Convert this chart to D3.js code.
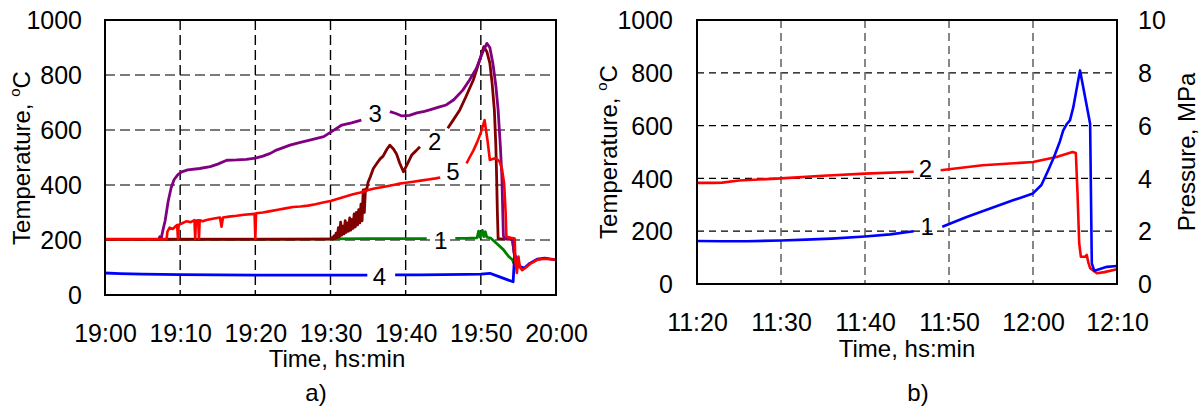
<!DOCTYPE html>
<html>
<head>
<meta charset="utf-8">
<script src="https://cdn.jsdelivr.net/npm/d3@7"></script>
<style>
  html, body { margin: 0; padding: 0; background: #fff; }
  svg { display: block; }
  text { font-family: "Liberation Sans", Arial, sans-serif; fill: #000; }
</style>
</head>
<body>
<svg id="chart" width="1201" height="409"></svg>
<script>
// ---------- Panel a: time in minutes after 19:00, temperature in °C ----------
const timeTicksA = [0, 10, 20, 30, 40, 50, 60];
const timeLabelsA = ["19:00", "19:10", "19:20", "19:30", "19:40", "19:50", "20:00"];
const tempTicks = [0, 200, 400, 600, 800, 1000];

// curve 1
const seriesA1 = [[0,203],[10,203],[20,203],[30,204],[35,205],[40,205],[42.8,205], null,
  [46.6,206],[48,206],[49.5,208],[49.7,232],[49.9,210],[50.2,235],[50.4,212],[50.6,230],[50.8,210],
  [51.3,207],[52,190],[53,165],[53.7,140],[54.2,128],[54.4,115]];
// curve 2
const seriesA2 = [[0,202],[10,202],[20,202],[30,203],[30.15,208],[30.3,203],[30.45,215],[30.6,205],
  [30.75,225],[30.9,208],[31.05,245],[31.2,212],[31.35,265],[31.5,218],[31.65,250],[31.8,222],
  [31.95,270],[32.1,228],[32.25,262],[32.4,232],[32.55,280],[32.7,236],[32.85,275],[33,242],
  [33.15,295],[33.3,248],[33.45,300],[33.6,255],[33.75,310],[33.9,262],[34.05,330],[34.2,270],
  [34.35,382],[34.5,300],[34.65,385],[34.8,380],[35,410],[35.3,430],
  [35.7,460],[36.2,480],[36.6,495],[37,505],[37.5,530],[37.9,545],[38.4,530],[38.8,512],
  [39.2,480],[39.7,448],[40.2,475],[40.8,509],[41.4,525],[41.9,539], null,
  [45.6,606],[46.3,635],[47.2,673],[48,720],[49,782],[49.8,850],[50.4,903],[50.8,885],
  [51.2,843],[51.5,770],[51.8,673],[52,540],[52.1,430],[52.2,300],[52.3,205],[53,204],
  [54.2,203],[54.4,160],[54.6,120]];
// curve 3
const seriesA3 = [[7.1,200],[7.3,212],[7.5,208],[7.7,235],[8.0,270],[8.4,340],[8.8,390],
  [9.2,420],[9.7,438],[10.2,448],[11,455],[12.6,460],[14,467],[15,476],[16.2,490],[17.5,491],
  [18.8,493],[20,498],[21,505],[22,515],[22.8,527],[23.8,537],[24.6,545],[26,555],[27.5,565],
  [29.1,576],[30.2,595],[31.5,618],[32.8,626],[34.1,636], null,
  [37.9,667],[38.7,660],[39.5,651],[40.5,653],[41.5,662],[42.5,668],[43.2,673],[44.5,684],
  [45.4,691],[46.4,710],[47.6,745],[48.5,782],[49.4,824],[50.2,880],[50.8,915],[51.2,900],
  [51.6,843],[52,760],[52.3,673],[52.6,540],[52.8,430],[53,215],[53.2,205],[54.2,203],
  [54.4,160],[54.6,120]];
// curve 4
const seriesA4 = [[0,80],[2,78],[5,76],[10,74],[15,73],[20,72],[25,72],[30,72],[34.9,72], null,
  [38.6,73],[42,73],[45,74],[48,75],[50,76],[51.2,79],[52.5,66],[53.5,56],[54.3,48],[54.5,150],
  [54.8,122],[55.3,102],[55.8,98],[56.5,115],[57.5,130],[58.5,134],[60,128]];
// curve 5
const seriesA5 = [[0,203],[5,203],[8.2,203],[8.3,230],[8.6,245],[9,240],[9.4,250],[9.6,255],
  [9.7,205],[9.8,255],[10.2,260],[10.8,268],[11.4,265],[11.9,272],[12,205],[12.1,270],[12.4,272],
  [12.5,205],[12.6,272],[13,268],[13.5,273],[14.5,278],[15.3,282],[15.5,248],[15.7,282],
  [16.5,285],[17.5,288],[18.5,292],[19.9,295],[20,205],[20.1,297],[21,300],[22,305],[23,310],
  [24,315],[25,320],[26,322],[27,325],[28,330],[29,336],[30,342],[31,350],[32,358],[33,366],
  [34,373],[35,382],[36,388],[37,393],[38,398],[39,404],[40,408],[41,412],[42,416],[43,420],
  [44,424],[44.6,427], null,
  [48.1,479],[48.5,500],[49,525],[49.5,555],[50,590],[50.5,636],[50.9,560],[51.2,491],
  [51.6,495],[52,497],[52.5,485],[52.8,460],[53.1,406],[53.3,300],[53.4,212],[54,208],
  [54.5,205],[54.6,120],[54.8,80],[55,140],[55.2,100],[55.5,90],[56,100],[56.5,112],
  [57.5,128],[58.5,132],[60,128]];
// curve number labels: [minutes, °C, text]
const labelsA = [[35.96,659,"3"],[43.85,559,"2"],[46.3,448,"5"],[44.7,200,"1"],[36.5,69,"4"]];

// ---------- Panel b: time in minutes after 11:20 ----------
const timeTicksB = [0, 10, 20, 30, 40, 50];
const timeLabelsB = ["11:20", "11:30", "11:40", "11:50", "12:00", "12:10"];
const pressTicks = [0, 2, 4, 6, 8, 10];

// curve 1 (plotted against the temperature scale)
const seriesB1 = [[0,163],[3,162],[6,162],[10,165],[13,168],[16,172],[20,180],[23,188],[25.8,200], null,
  [29.2,217],[32.1,254],[34.9,286],[37.7,318],[40,343],[41,375],[41.8,430],[42.5,481],
  [43.2,540],[43.6,582],[44,605],[44.4,620],[44.8,670],[45.2,740],[45.6,809],[46.2,708],
  [46.8,607],[47,78],[47.3,50],[47.6,53],[48.8,65],[50,68]];
// curve 2
const seriesB2 = [[0,383],[2,383],[3,384],[5,392],[10,400],[15,410],[20,418],[25.8,425], null,
  [29,431],[34,450],[40,462],[42.8,481],[44.7,500],[45.1,496],[45.3,344],[45.5,155],
  [45.7,103],[46.2,103],[46.4,110],[46.6,80],[46.8,60],[47.6,41],[48.5,45],[50,56]];
const labelsB = [[27.2,437,"2"],[27.4,217,"1"]];

// ---------- drawing ----------
const svg = d3.select("#chart");
const FS = 24;      // titles and curve numbers
const TICK_FS = 25; // tick labels

function drawPanel(cfg) {
  const x = d3.scaleLinear().domain(cfg.xDomain).range([cfg.left, cfg.right]);
  const y = d3.scaleLinear().domain([0, 1000]).range([cfg.bottom, cfg.top]);
  const g = svg.append("g");

  // horizontal grid
  g.append("g").selectAll("line").data(tempTicks.filter(v => v > 0 && v < 1000)).join("line")
    .attr("x1", cfg.left).attr("x2", cfg.right)
    .attr("y1", d => y(d)).attr("y2", d => y(d))
    .attr("stroke", cfg.hGrid.color).attr("stroke-width", cfg.hGrid.width)
    .attr("stroke-dasharray", cfg.hGrid.dash);
  // vertical grid
  g.append("g").selectAll("line").data(cfg.xTicks.slice(1, -1)).join("line")
    .attr("x1", d => x(d)).attr("x2", d => x(d))
    .attr("y1", cfg.top).attr("y2", cfg.bottom)
    .attr("stroke", cfg.vGrid.color).attr("stroke-width", cfg.vGrid.width)
    .attr("stroke-dasharray", cfg.vGrid.dash);

  // series
  const line = d3.line().defined(d => d !== null)
    .x(d => x(d[0])).y(d => y(d[1]));
  cfg.series.forEach(s => {
    g.append("path").datum(s.data)
      .attr("d", line)
      .attr("fill", "none").attr("stroke", s.color)
      .attr("stroke-width", s.width || 2.6)
      .attr("stroke-linejoin", "round").attr("stroke-linecap", "butt");
  });

  // frame
  g.append("rect").attr("x", cfg.left).attr("y", cfg.top)
    .attr("width", cfg.right - cfg.left).attr("height", cfg.bottom - cfg.top)
    .attr("fill", "none").attr("stroke", "#000").attr("stroke-width", 2);

  // left axis labels
  const leftAxis = d3.axisLeft(y).tickValues(tempTicks).tickFormat(d3.format("d"))
    .tickSize(0).tickPadding(cfg.yPad);
  const la = g.append("g").attr("transform", `translate(${cfg.left},0)`).call(leftAxis);
  la.select(".domain").remove();
  la.selectAll("text").attr("font-size", TICK_FS).attr("font-family", null).attr("dy", "0.35em");

  // bottom axis labels
  const bottomAxis = d3.axisBottom(x).tickValues(cfg.xTicks)
    .tickFormat((d, i) => cfg.xLabels[i]).tickSize(0).tickPadding(0);
  const ba = g.append("g").attr("transform", `translate(0,${cfg.bottom})`).call(bottomAxis);
  ba.select(".domain").remove();
  ba.selectAll("text").attr("font-size", TICK_FS).attr("font-family", null)
    .attr("dy", null).attr("y", cfg.xLabelBase);

  // right axis (pressure)
  if (cfg.right2) {
    const yp = d3.scaleLinear().domain([0, 10]).range([cfg.bottom, cfg.top]);
    const ra = g.append("g").attr("transform", `translate(${cfg.right},0)`)
      .call(d3.axisRight(yp).tickValues(pressTicks).tickFormat(d3.format("d"))
        .tickSize(0).tickPadding(21));
    ra.select(".domain").remove();
    ra.selectAll("text").attr("font-size", TICK_FS).attr("font-family", null).attr("dy", "0.35em");
    g.append("text")
      .attr("transform", `translate(${cfg.right2.x},${(cfg.top + cfg.bottom) / 2}) rotate(-90)`)
      .attr("text-anchor", "middle").attr("font-size", FS)
      .text("Pressure, MPa");
  }

  // y title
  const yt = g.append("text")
    .attr("transform", `translate(${cfg.yTitleX},${cfg.yTitleY}) rotate(-90)`)
    .attr("text-anchor", "middle").attr("font-size", FS);
  yt.append("tspan").text("Temperature, ");
  yt.append("tspan").attr("font-size", 15).attr("dy", -10).text("o");
  yt.append("tspan").attr("dy", 10).text("C");

  // x title and panel letter
  g.append("text").attr("x", cfg.xTitleX).attr("y", cfg.xTitleBase)
    .attr("text-anchor", "middle").attr("font-size", FS).text("Time, hs:min");
  g.append("text").attr("x", cfg.letterX).attr("y", 401)
    .attr("text-anchor", "middle").attr("font-size", FS).text(cfg.letter);

  // curve numbers
  g.append("g").selectAll("text").data(cfg.labels).join("text")
    .attr("x", d => x(d[0])).attr("y", d => y(d[1]))
    .attr("dy", "0.36em").attr("text-anchor", "middle").attr("font-size", FS)
    .text(d => d[2]);
}

drawPanel({
  left: 105, right: 556, top: 20, bottom: 295,
  xDomain: [0, 60], xTicks: timeTicksA, xLabels: timeLabelsA,
  yPad: 23, xLabelBase: 47, yTitleX: 30, yTitleY: 158,
  xTitleX: 337, xTitleBase: 367, letterX: 316, letter: "a)",
  hGrid: { color: "#7a7a7a", width: 2, dash: "10,5" },
  vGrid: { color: "#000", width: 1.4, dash: "10,5" },
  series: [
    { data: seriesA1, color: "#008000", width: 2.8 },
    { data: seriesA4, color: "#0000ff", width: 2.8 },
    { data: seriesA2, color: "#800000", width: 2.8 },
    { data: seriesA3, color: "#800080", width: 2.8 },
    { data: seriesA5, color: "#ff0000", width: 2.6 }
  ],
  labels: labelsA
});

drawPanel({
  left: 697, right: 1117, top: 20, bottom: 284,
  xDomain: [0, 50], xTicks: timeTicksB, xLabels: timeLabelsB,
  yPad: 24, xLabelBase: 47, yTitleX: 617, yTitleY: 152,
  xTitleX: 907, xTitleBase: 357, letterX: 918, letter: "b)",
  hGrid: { color: "#000", width: 1.3, dash: "7,5" },
  vGrid: { color: "#6a6a6a", width: 1.6, dash: "8,5" },
  right2: { x: 1195 },
  series: [
    { data: seriesB2, color: "#ff0000", width: 2.6 },
    { data: seriesB1, color: "#0000ff", width: 2.6 }
  ],
  labels: labelsB
});
</script>
</body>
</html>
